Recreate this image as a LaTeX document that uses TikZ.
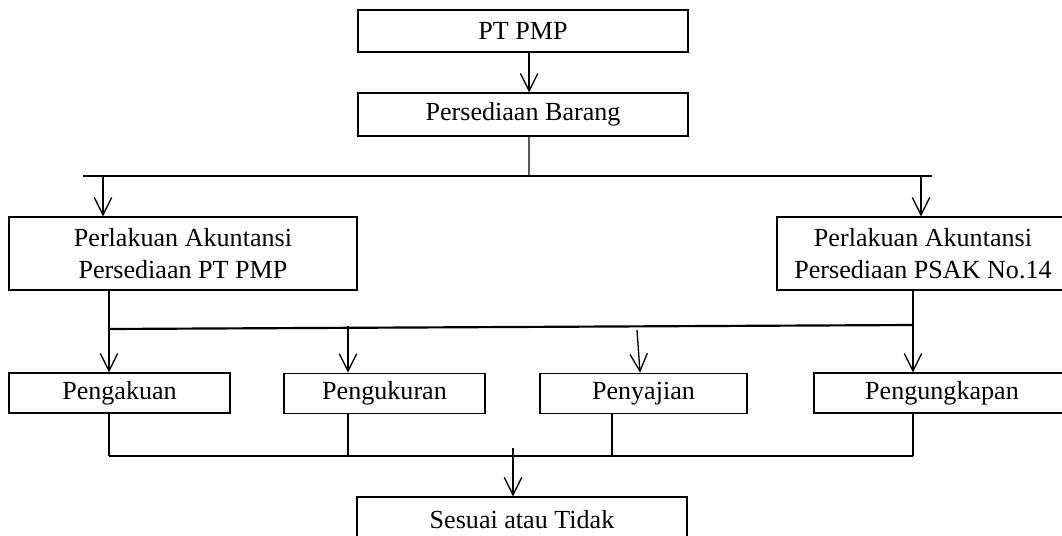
\documentclass[tikz,border=0pt]{standalone}
\usepackage{fontspec}
\setmainfont{Liberation Serif}
\usetikzlibrary{arrows.meta}
\tikzset{
  box/.style={draw,line width=.6pt,inner sep=0pt,align=center,
    font=\fontsize{12pt}{14.6pt}\selectfont},
  bus/.style={line width=1pt},
  >={Straight Barb[length=8pt,width=8pt]}
}
\begin{document}
\begin{tikzpicture}[x=0.46pt,y=-0.46pt,line width=.6pt]
  \clip (0,0) rectangle (1062,536);
  \node[box,minimum width=151.8pt,minimum height=19.3pt] (top) at (523,31) {PT PMP};
  \node[box,minimum width=151.8pt,minimum height=19.8pt] (barang) at (523,114.5) {Persediaan Barang};
  \node[box,minimum width=160.1pt,minimum height=33.6pt] (left) at (183,253.5) {Perlakuan Akuntansi\\Persediaan PT PMP};
  \node[box,minimum width=134.3pt,minimum height=33.6pt] (right) at (923,253.5) {Perlakuan Akuntansi\\Persediaan PSAK No.14};
  \node[box,minimum width=101.7pt,minimum height=18.4pt] (akuan) at (119.5,393) {Pengakuan};
  \node[box,minimum width=92.5pt,minimum height=18.6pt] (ukuran) at (384.5,393.5) {Pengukuran};
  \node[box,minimum width=95.2pt,minimum height=18.6pt] (sajian) at (643.5,393.5) {Penyajian};
  \node[box,minimum width=117.8pt,minimum height=18.4pt] (ungkapan) at (942,393) {Pengungkapan};
  \node[box,minimum width=151.8pt,minimum height=21.2pt] (sesuai) at (522,520) {Sesuai atau Tidak};

  \coordinate (split) at (529,176);
  \coordinate (la) at (103,176);
  \coordinate (ra) at (921,176);
  \coordinate (lj) at (109,329);
  \coordinate (rj) at (913,325);
  \coordinate (uj) at (348,325.5);
  \coordinate (sj) at (637,330);
  \coordinate (b1) at (109,456);
  \coordinate (b2) at (348,456);
  \coordinate (b3) at (612,456);
  \coordinate (b4) at (913,456);
  \coordinate (bj) at (513,448);

  \draw[->] ([xshift=2.8pt]top.south) -- ([xshift=2.8pt]barang.north);
  \draw ([xshift=2.8pt]barang.south) -- (split);
  \draw[bus] (83,176) -- (932,176);
  \draw[->] (la) -- (la |- left.north);
  \draw[->] (ra) -- (ra |- right.north);

  \draw (left.south -| lj) -- (lj);
  \draw (right.south -| rj) -- (rj);
  \draw[bus] (lj) -- (rj);
  \draw[->] (lj) -- (lj |- akuan.north);
  \draw[->] (uj) -- (uj |- ukuran.north);
  \draw[->] (sj) -- ([xshift=-1.6pt]sajian.north);
  \draw[->] (rj) -- (rj |- ungkapan.north);

  \draw (akuan.south -| b1) -- (b1);
  \draw (ukuran.south -| b2) -- (b2);
  \draw (sajian.south -| b3) -- (b3);
  \draw (ungkapan.south -| b4) -- (b4);
  \draw[bus] (b1) -- (b4);
  \draw[->] (bj) -- (bj |- sesuai.north);
\end{tikzpicture}
\end{document}
